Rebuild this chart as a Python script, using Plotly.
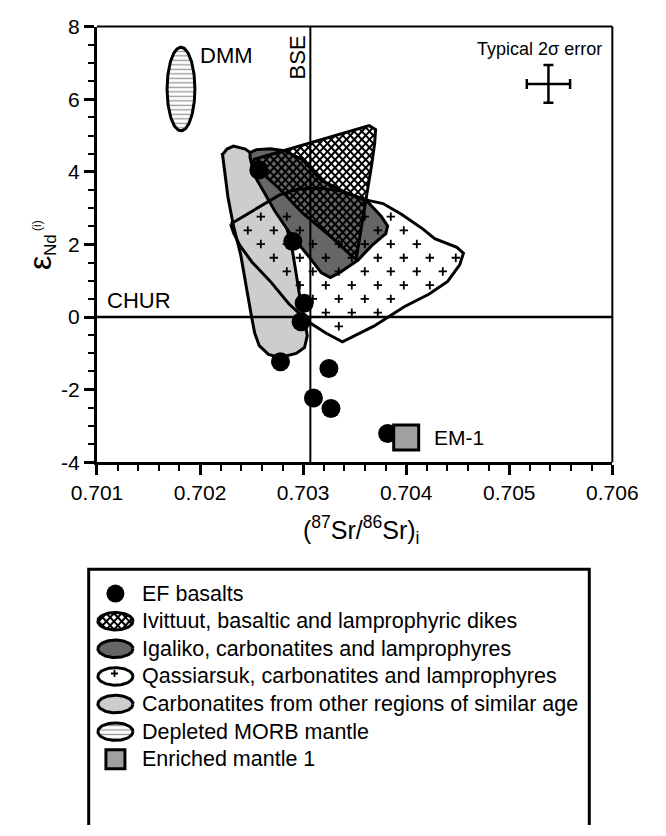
import numpy as np
import plotly.graph_objects as go

FONT = "Liberation Sans, Arial, Helvetica, sans-serif"

# ---------------- data ----------------
# EF basalts
ef_sr = [0.70257, 0.70290, 0.70301, 0.70298, 0.70278, 0.70325, 0.70310, 0.70327, 0.70382]
ef_nd = [4.05, 2.08, 0.38, -0.13, -1.23, -1.42, -2.23, -2.52, -3.21]

# Enriched mantle 1
em1_sr = [0.70400]
em1_nd = [-3.32]

# Depleted MORB mantle field (ellipse centre and half-axes)
dmm_sr, dmm_nd = 0.701815, 6.28
dmm_half_sr, dmm_half_nd = 0.000135, 1.15

# Carbonatites from other regions of similar age
carb_sr = [0.702216, 0.702261, 0.702324, 0.702440, 0.702530, 0.702619, 0.702709, 0.702798,
           0.702861, 0.702897, 0.702942, 0.702978, 0.703013, 0.703040, 0.703013, 0.702933,
           0.702772, 0.702664, 0.702574, 0.702530, 0.702494, 0.702458, 0.702395, 0.702324,
           0.702270, 0.702234, 0.702216]
carb_nd = [4.466, 4.627, 4.708, 4.627, 4.440, 4.172, 3.635, 2.912,
           2.241, 1.812, 1.029, 0.365, -0.038, -0.520, -0.841, -1.002,
           -1.110, -1.029, -0.788, -0.440, 0.097, 0.713, 1.705, 2.509,
           3.314, 4.118, 4.520]

# Igaliko, carbonatites and lamprophyres
igal_sr = [0.702485, 0.702548, 0.702682, 0.702816, 0.702996, 0.703175, 0.703399, 0.703623,
           0.703757, 0.703820, 0.703802, 0.703668, 0.703533, 0.703354, 0.703264, 0.703175,
           0.703067, 0.702888, 0.702727, 0.702619, 0.702548, 0.702512, 0.702485]
igal_nd = [4.531, 4.611, 4.638, 4.584, 4.332, 3.769, 3.448, 3.180,
           2.777, 2.509, 2.295, 1.973, 1.571, 1.223, 1.088, 1.223,
           1.625, 2.241, 2.912, 3.448, 3.796, 4.064, 4.397]

# Qassiarsuk, carbonatites and lamprophyres
qass_sr = [0.702297, 0.702458, 0.702619, 0.702772, 0.702951, 0.703157, 0.703354, 0.703533,
           0.703641, 0.703775, 0.703954, 0.704160, 0.704277, 0.704492, 0.704555, 0.704519,
           0.704402, 0.704223, 0.703981, 0.703686, 0.703381, 0.703220, 0.703058, 0.702861,
           0.702682, 0.702503, 0.702386, 0.702324]
qass_nd = [2.563, 2.831, 3.099, 3.365, 3.528, 3.555, 3.475, 3.314,
           3.206, 3.126, 2.831, 2.429, 2.161, 1.920, 1.759, 1.437,
           0.981, 0.633, 0.284, -0.252, -0.681, -0.440, -0.145, 0.365,
           0.981, 1.517, 1.973, 2.322]

# Ivittuut, basaltic and lamprophyric dikes
ivit_sr = [0.702512, 0.702772, 0.703040, 0.703381, 0.703641, 0.703703, 0.703694, 0.703668,
           0.703623, 0.703578, 0.703542, 0.703515, 0.703462, 0.703291, 0.702996, 0.702754,
           0.702592, 0.702521]
ivit_nd = [4.332, 4.547, 4.761, 5.056, 5.271, 5.164, 4.788, 4.252,
           3.448, 2.643, 1.973, 1.598, 1.705, 2.161, 2.858, 3.582,
           3.984, 4.172]

# Typical 2 sigma error
err_sr, err_nd = 0.70538, 6.42
err_sr_2s, err_nd_2s = 0.00021, 0.52

# Reference lines
bse_sr = 0.70307
chur_nd = 0.0

x_range = [0.701, 0.706]
y_range = [-4, 8]
x_ticks = [0.701, 0.702, 0.703, 0.704, 0.705, 0.706]
x_ticktext = ["0.701", "0.702", "0.703", "0.704", "0.705", "0.706"]
y_ticks = [-4, -2, 0, 2, 4, 6, 8]
y_ticktext = ["-4", "-2", "0", "2", "4", "6", "8"]

legend_labels = [
    "EF basalts",
    "Ivittuut, basaltic and lamprophyric dikes",
    "Igaliko, carbonatites and lamprophyres",
    "Qassiarsuk, carbonatites and lamprophyres",
    "Carbonatites from other regions of similar age",
    "Depleted MORB mantle",
    "Enriched mantle 1",
]

# ---------------- layout geometry (pixels) ----------------
W, H = 666, 836
PL, PR, PT, PB = 77, 636, 15, 463          # main plot frame
kx = (PR - PL) / (x_range[1] - x_range[0])  # px per unit Sr
ky = (PB - PT) / (y_range[1] - y_range[0])  # px per unit eNd

LEG_DOM_TOP = 0.33
leg_top_px = H - LEG_DOM_TOP * H


def inside(px, py, vx, vy):
    """Ray casting point-in-polygon test."""
    n = len(vx)
    res = False
    j = n - 1
    for i in range(n):
        if ((vy[i] > py) != (vy[j] > py)) and \
           (px < (vx[j] - vx[i]) * (py - vy[i]) / (vy[j] - vy[i]) + vx[i]):
            res = not res
        j = i
    return res


def edge_dist(px, py, vx, vy):
    ax, ay = np.asarray(vx), np.asarray(vy)
    bx, by = np.roll(ax, -1), np.roll(ay, -1)
    dx, dy = bx - ax, by - ay
    t = np.clip(((px - ax) * dx + (py - ay) * dy) / np.maximum(dx * dx + dy * dy, 1e-12), 0, 1)
    cx, cy = ax + t * dx, ay + t * dy
    return float(np.min(np.hypot(px - cx, py - cy)))


def plus_lattice(vx, vy, ox, oy, step, margin, exclude=None):
    """Staggered grid of plus signs clipped to a polygon (pixel-space units)."""
    pts_x, pts_y = [], []
    for i in range(-40, 41):
        for j in range(-40, 41):
            if (i + j) % 2:
                continue
            px, py = ox + i * step, oy + j * step
            if not inside(px, py, vx, vy):
                continue
            if edge_dist(px, py, vx, vy) < margin:
                continue
            if exclude is not None and inside(px, py, exclude[0], exclude[1]):
                continue
            pts_x.append(px); pts_y.append(py)
    return pts_x, pts_y


def cross_hatch(vx, vy, spacing):
    """Two families of 45-degree lines clipped to a polygon (pixel-space units)."""
    vx = np.asarray(vx, float); vy = np.asarray(vy, float)
    n = len(vx)
    sx, sy = [], []
    for sign in (1.0, -1.0):
        u = vx - sign * vy
        c = np.ceil(u.min() / spacing) * spacing
        while c < u.max():
            pts = []
            for i in range(n):
                j = (i + 1) % n
                ua, ub = u[i], u[j]
                if (ua - c) * (ub - c) < 0:
                    s = (c - ua) / (ub - ua)
                    pts.append((vx[i] + s * (vx[j] - vx[i]), vy[i] + s * (vy[j] - vy[i])))
            pts.sort(key=lambda p: p[1])
            for k in range(0, len(pts) - 1, 2):
                sx += [pts[k][0], pts[k + 1][0], None]
                sy += [pts[k][1], pts[k + 1][1], None]
            c += spacing
    return sx, sy


fig = go.Figure()
line_k = dict(color="black", width=3)
HATCH_LINE = dict(color="black", width=2)
HATCH_STEP = 8.3
DASH = dict(shape="-", size=4.5, solidity=0.3, fgcolor="#333333", bgcolor="white")
PLUS = dict(symbol="cross-thin", size=6, color="black", line=dict(color="black", width=1.8))

# Carbonatites from other regions
fig.add_trace(go.Scatter(x=carb_sr + carb_sr[:1], y=carb_nd + carb_nd[:1], mode="lines",
                         fill="toself", fillcolor="#cdcdcd", line=line_k, hoverinfo="skip"))
# Igaliko
fig.add_trace(go.Scatter(x=igal_sr + igal_sr[:1], y=igal_nd + igal_nd[:1], mode="lines",
                         fill="toself", fillcolor="#666666", line=line_k, hoverinfo="skip"))
# Qassiarsuk outline
fig.add_trace(go.Scatter(x=qass_sr + qass_sr[:1], y=qass_nd + qass_nd[:1], mode="lines",
                         line=line_k, hoverinfo="skip"))
# Qassiarsuk plus-sign ornament (laid out in pixel space, converted back to data units)
qpx = [s * kx for s in qass_sr]; qpy = [n * ky for n in qass_nd]
ipx = [s * kx for s in ivit_sr]; ipy = [n * ky for n in ivit_nd]
ox, oy = 0.70322 * kx, 1.633 * ky
gx, gy = plus_lattice(qpx, qpy, ox, oy, 14.1, 5.0, exclude=(ipx, ipy))
fig.add_trace(go.Scatter(x=[g / kx for g in gx], y=[g / ky for g in gy], mode="markers",
                         marker=PLUS, hoverinfo="skip"))
# Ivittuut cross-hatched field
hx, hy = cross_hatch(ipx, ipy, HATCH_STEP)
fig.add_trace(go.Scatter(x=[None if v is None else v / kx for v in hx],
                         y=[None if v is None else v / ky for v in hy],
                         mode="lines", line=HATCH_LINE, hoverinfo="skip"))
fig.add_trace(go.Scatter(x=ivit_sr + ivit_sr[:1], y=ivit_nd + ivit_nd[:1], mode="lines",
                         line=line_k, hoverinfo="skip"))

# DMM ellipse
t = np.linspace(0, 2 * np.pi, 121)
fig.add_trace(go.Scatter(x=dmm_sr + dmm_half_sr * np.cos(t), y=dmm_nd + dmm_half_nd * np.sin(t),
                         mode="lines", fill="toself", fillcolor="white", fillpattern=DASH,
                         line=line_k, hoverinfo="skip"))

# BSE and CHUR reference lines
fig.add_trace(go.Scatter(x=[bse_sr, bse_sr], y=y_range, mode="lines",
                         line=dict(color="black", width=2), hoverinfo="skip"))
fig.add_trace(go.Scatter(x=x_range, y=[chur_nd, chur_nd], mode="lines",
                         line=dict(color="black", width=2.5), hoverinfo="skip"))

# Typical 2 sigma error cross
fig.add_trace(go.Scatter(x=[err_sr], y=[err_nd], mode="markers",
                         marker=dict(size=1, color="rgba(0,0,0,0)"),
                         error_x=dict(type="constant", value=err_sr_2s, thickness=2.5, width=5, color="black"),
                         error_y=dict(type="constant", value=err_nd_2s, thickness=2.5, width=5, color="black"),
                         hoverinfo="skip"))

# EF basalts
fig.add_trace(go.Scatter(x=ef_sr, y=ef_nd, mode="markers",
                         marker=dict(symbol="circle", size=19, color="black"),
                         hoverinfo="skip"))
# EM-1
fig.add_trace(go.Scatter(x=em1_sr, y=em1_nd, mode="markers",
                         marker=dict(symbol="square", size=25, color="#a0a0a0",
                                     line=dict(color="black", width=3)),
                         hoverinfo="skip"))

# ---------------- legend panel (x2/y2 in pixel units) ----------------
leg_row0, leg_step = 598, 28.4
sym_cx, text_x = 97, 124
erx, ery = 19, 9
te = np.linspace(0, 2 * np.pi, 81)
rows_y = [leg_row0 + i * leg_step for i in range(len(legend_labels))]


def leg_ellipse(cy, **kw):
    return go.Scatter(x=sym_cx + erx * np.cos(te), y=cy + ery * np.sin(te), mode="lines",
                      fill="toself", line=line_k, xaxis="x2", yaxis="y2", hoverinfo="skip", **kw)


fig.add_trace(go.Scatter(x=[sym_cx], y=[rows_y[0]], mode="markers", xaxis="x2", yaxis="y2",
                         marker=dict(symbol="circle", size=18, color="black"), hoverinfo="skip"))
# cross-hatched legend ellipse
lhx, lhy = cross_hatch(list(sym_cx + erx * np.cos(te[:-1])),
                       list(rows_y[1] + ery * np.sin(te[:-1])), HATCH_STEP)
fig.add_trace(go.Scatter(x=lhx, y=lhy, mode="lines", line=HATCH_LINE, xaxis="x2", yaxis="y2",
                         hoverinfo="skip"))
fig.add_trace(go.Scatter(x=sym_cx + erx * np.cos(te), y=rows_y[1] + ery * np.sin(te),
                         mode="lines", line=line_k, xaxis="x2", yaxis="y2", hoverinfo="skip"))
fig.add_trace(leg_ellipse(rows_y[2], fillcolor="#666666"))
fig.add_trace(leg_ellipse(rows_y[3], fillcolor="white"))
ex = list(sym_cx + (erx - 3) * np.cos(te)); ey = list(rows_y[3] + (ery - 2) * np.sin(te))
lx, ly = plus_lattice(ex, ey, sym_cx - 1, rows_y[3] - 3, 9.0, 2.5)
fig.add_trace(go.Scatter(x=lx, y=ly, mode="markers", xaxis="x2", yaxis="y2",
                         marker=dict(PLUS, size=5), hoverinfo="skip"))
fig.add_trace(leg_ellipse(rows_y[4], fillcolor="#cdcdcd"))
fig.add_trace(leg_ellipse(rows_y[5], fillcolor="white", fillpattern=DASH))
fig.add_trace(go.Scatter(x=[sym_cx], y=[rows_y[6]], mode="markers", xaxis="x2", yaxis="y2",
                         marker=dict(symbol="square", size=19, color="#a0a0a0",
                                     line=dict(color="black", width=3)), hoverinfo="skip"))

annotations = []
for lab, yy in zip(legend_labels, rows_y):
    annotations.append(dict(text=lab, x=text_x, y=yy, xref="x2", yref="y2", xanchor="left",
                            yanchor="middle", showarrow=False, font=dict(size=21.5)))

# labels inside the plot
annotations += [
    dict(text="DMM", x=dmm_sr + dmm_half_sr, y=7.2, xref="x", yref="y", xshift=3,
         xanchor="left", yanchor="middle", showarrow=False, font=dict(size=22)),
    dict(text="BSE", x=bse_sr, y=7.16, xref="x", yref="y", xshift=-13, textangle=-90,
         xanchor="center", yanchor="middle", showarrow=False, font=dict(size=22)),
    dict(text="CHUR", x=x_range[0], y=chur_nd, xref="x", yref="y", xshift=8, yshift=17,
         xanchor="left", yanchor="middle", showarrow=False, font=dict(size=22)),
    dict(text="EM-1", x=em1_sr[0], y=em1_nd[0], xref="x", yref="y", xshift=26,
         xanchor="left", yanchor="middle", showarrow=False, font=dict(size=21)),
    dict(text="Typical 2σ error", x=err_sr, y=err_nd, xref="x", yref="y", xshift=-9,
         yshift=35, xanchor="center", yanchor="middle", showarrow=False, font=dict(size=18)),
    # axis titles
    dict(text="(<sup>87</sup>Sr/<sup>86</sup>Sr)<sub>i</sub>", x=363 / W, y=1 - 533 / H,
         xref="paper", yref="paper", xanchor="center", yanchor="middle", showarrow=False,
         font=dict(size=25)),
    dict(text='<span style="font-size:32px">ε</span><sub>Nd</sub><sup><span style="font-size:12px"> (i)</span></sup>',
         x=17 / W, y=1 - 240 / H, xref="paper", yref="paper", textangle=-90,
         xanchor="center", yanchor="middle", showarrow=False, font=dict(size=24)),
]

shapes = [
    # top and right frame lines
    dict(type="line", xref="x domain", yref="y domain", x0=0, x1=1, y0=1, y1=1,
         line=dict(color="black", width=2)),
    dict(type="line", xref="x domain", yref="y domain", x0=1, x1=1, y0=0, y1=1,
         line=dict(color="black", width=2)),
    # legend box (open at the bottom edge of the page)
    dict(type="path", xref="x2", yref="y2", path="M 68,845 L 68,573 L 611,573 L 611,845",
         line=dict(color="black", width=3)),
]

minor_x = [v for v in np.round(np.arange(0.701, 0.70601, 0.0002), 4)
           if min(abs(v - m) for m in x_ticks) > 1e-6]
minor_y = [v for v in np.arange(-4, 8.01, 0.5) if min(abs(v - m) for m in y_ticks) > 1e-6]

fig.update_layout(
    width=W, height=H, margin=dict(l=0, r=0, t=0, b=0),
    paper_bgcolor="white", plot_bgcolor="rgba(0,0,0,0)", showlegend=False,
    font=dict(family=FONT, size=21, color="black"),
    xaxis=dict(domain=[PL / W, PR / W], range=x_range, showgrid=False, zeroline=False,
               showline=True, linewidth=3, linecolor="black", ticks="outside", ticklen=10,
               tickwidth=2.5, tickcolor="black", tickmode="array", tickvals=x_ticks,
               ticktext=x_ticktext, tickfont=dict(size=21),
               minor=dict(tickmode="array", tickvals=minor_x, ticks="outside", ticklen=6,
                          tickwidth=2, tickcolor="black", showgrid=False)),
    yaxis=dict(domain=[1 - PB / H, 1 - PT / H], range=y_range, showgrid=False, zeroline=False,
               showline=True, linewidth=3, linecolor="black", ticks="outside", ticklen=10,
               tickwidth=2.5, tickcolor="black", tickmode="array", tickvals=y_ticks,
               ticktext=y_ticktext, tickfont=dict(size=21),
               minor=dict(tickmode="array", tickvals=minor_y, ticks="outside", ticklen=6,
                          tickwidth=2, tickcolor="black", showgrid=False)),
    xaxis2=dict(domain=[0, 1], range=[0, W], visible=False, anchor="y2", fixedrange=True),
    yaxis2=dict(domain=[0, LEG_DOM_TOP], range=[H, leg_top_px], visible=False, anchor="x2",
                fixedrange=True),
    annotations=annotations,
    shapes=shapes,
)

fig.write_html("out.html")
